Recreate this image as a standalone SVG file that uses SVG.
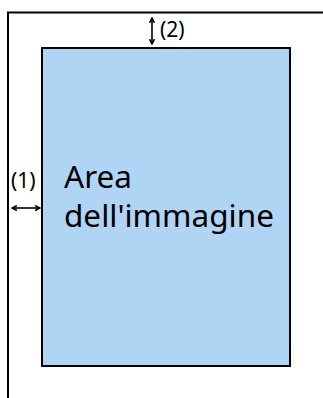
<svg xmlns="http://www.w3.org/2000/svg" width="323" height="398" viewBox="0 0 323 398">
<style>
.t{font-family:"Noto Sans","Open Sans",sans-serif;fill:#000}
.a{stroke:#000;stroke-width:1.6;fill:none}
</style>
<defs>
<marker id="ah" viewBox="0 0 10 10" refX="9" refY="5" markerWidth="7" markerHeight="7" orient="auto-start-reverse" markerUnits="userSpaceOnUse">
<path d="M2,1.5 L9,5 L2,8.5" fill="none" stroke="#000" stroke-width="2.2"/>
</marker>
</defs>
<rect width="323" height="398" fill="#fff"/>
<g id="outer"><rect x="8" y="12.5" width="330" height="400" fill="none" stroke="#000" stroke-width="2"/></g>
<g id="image-area">
<rect x="42" y="48" width="248" height="318" fill="#b0d4f4" stroke="#000" stroke-width="2"/>
<text class="t" x="64" y="188" font-size="31.5">Area</text>
<text class="t" x="64" y="227" font-size="31.5">dell'immagine</text>
</g>
<g id="connectors">
<line class="a" x1="152" y1="18" x2="152" y2="44" marker-start="url(#ah)" marker-end="url(#ah)"/>
<line class="a" x1="12" y1="208" x2="40" y2="208" marker-start="url(#ah)" marker-end="url(#ah)"/>
</g>
<g id="labels">
<text class="t" x="160" y="37" font-size="21">(2)</text>
<text class="t" x="11" y="188" font-size="21">(1)</text>
</g>
</svg>
